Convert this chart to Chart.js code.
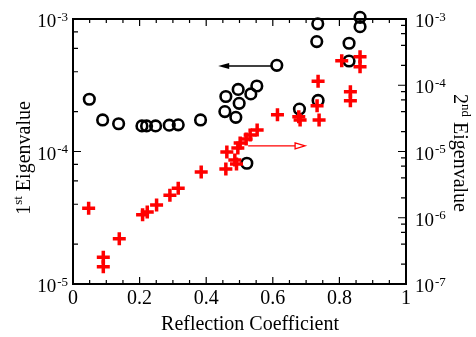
<!DOCTYPE html>
<html>
<head>
<meta charset="utf-8">
<script src="https://cdn.jsdelivr.net/npm/chart.js@4.4.1/dist/chart.umd.min.js"></script>
<style>
  html, body { margin: 0; padding: 0; background: #fff; }
</style>
</head>
<body>
<canvas id="eigChart" width="476" height="337"></canvas>
<script>
// 1st eigenvalue (left axis) - black circles
const firstX = [0.049, 0.089, 0.137, 0.207, 0.221, 0.248, 0.289, 0.316, 0.383,
  0.459, 0.496, 0.552, 0.534, 0.499, 0.456, 0.489, 0.522, 0.612, 0.680,
  0.736, 0.735, 0.732, 0.829, 0.829, 0.862, 0.862];
const firstY = [2.48e-4, 1.73e-4, 1.62e-4, 1.56e-4, 1.56e-4, 1.56e-4, 1.58e-4, 1.59e-4, 1.73e-4,
  2.6e-4, 2.94e-4, 3.12e-4, 2.72e-4, 2.31e-4, 2.0e-4, 1.81e-4, 8.15e-5, 4.47e-4, 2.09e-4,
  2.43e-4, 9.2e-4, 6.75e-4, 6.56e-4, 4.82e-4, 1.03e-3, 8.75e-4];

// 2nd eigenvalue (right axis) - red crosses
const secondX = [0.047, 0.091, 0.091, 0.139, 0.209, 0.223, 0.251, 0.291, 0.316, 0.385,
  0.459, 0.462, 0.486, 0.491, 0.495, 0.502, 0.520, 0.532, 0.553, 0.614,
  0.678, 0.682, 0.736, 0.733, 0.739, 0.807, 0.862, 0.862, 0.833, 0.833];
const secondY = [1.39e-6, 2.53e-7, 1.82e-7, 4.83e-7, 1.11e-6, 1.22e-6, 1.56e-6, 2.18e-6, 2.78e-6, 4.91e-6,
  5.45e-6, 9.8e-6, 7.45e-6, 6.5e-6, 1.13e-5, 1.34e-5, 1.55e-5, 1.77e-5, 2.11e-5, 3.6e-5,
  3.36e-5, 2.99e-5, 1.15e-4, 4.9e-5, 3.0e-5, 2.35e-4, 2.7e-4, 1.9e-4, 8.0e-5, 5.85e-5];

// axis decades (exponents) for the log tick labels
const leftDecades = [-5, -4, -3];
const rightDecades = [-7, -6, -5, -4, -3];

// arrows telling which axis each series belongs to: [fromX, toX, y]
const leftArrow = [0.597, 0.436, 4.42e-4];
const rightArrow = [0.526, 0.697, 1.22e-5];

const SERIF = '"Liberation Serif", "Times New Roman", serif';

function toPoints(xs, ys) {
  return xs.map((x, i) => ({ x: x, y: ys[i] }));
}

// "10" with a raised exponent
function drawPower(ctx, exp, x, y, alignRight) {
  ctx.font = '19px ' + SERIF;
  const baseW = ctx.measureText('10').width;
  ctx.font = '13px ' + SERIF;
  const supW = ctx.measureText(String(exp)).width;
  const left = alignRight ? x - baseW - supW - 1 : x;
  ctx.textAlign = 'left';
  ctx.textBaseline = 'alphabetic';
  ctx.font = '19px ' + SERIF;
  ctx.fillText('10', left, y + 8);
  ctx.font = '13px ' + SERIF;
  ctx.fillText(String(exp), left + baseW + 1, y + 1.5);
}

// "1st Eigenvalue" style title, centred at (0,0) of the current transform
function drawOrdinalTitle(ctx, num, suffix, rest) {
  ctx.textBaseline = 'middle';
  ctx.textAlign = 'left';
  ctx.font = '20px ' + SERIF;
  const wNum = ctx.measureText(num).width;
  const wRest = ctx.measureText(rest).width;
  ctx.font = '13px ' + SERIF;
  const wSuf = ctx.measureText(suffix).width;
  let x = -(wNum + wSuf + wRest) / 2;
  ctx.font = '20px ' + SERIF;
  ctx.fillText(num, x, 0);
  x += wNum;
  ctx.font = '13px ' + SERIF;
  ctx.fillText(suffix, x, -6);
  x += wSuf;
  ctx.font = '20px ' + SERIF;
  ctx.fillText(rest, x, 0);
}

const framePlugin = {
  id: 'frame',
  afterDatasetsDraw(chart) {
    const ctx = chart.ctx;
    const a = chart.chartArea;
    const sx = chart.scales.x, sy = chart.scales.y, sy2 = chart.scales.y2;
    ctx.save();

    // box
    ctx.strokeStyle = '#000';
    ctx.lineWidth = 2;
    ctx.strokeRect(a.left, a.top, a.right - a.left, a.bottom - a.top);

    // inward ticks, x
    ctx.lineWidth = 1.2;
    ctx.beginPath();
    for (let i = 0; i <= 20; i++) {
      const px = sx.getPixelForValue(i * 0.05);
      const len = i % 4 === 0 ? 7 : 4;
      ctx.moveTo(px, a.bottom); ctx.lineTo(px, a.bottom - len);
      ctx.moveTo(px, a.top); ctx.lineTo(px, a.top + len);
    }
    // inward ticks, left log axis
    leftDecades.forEach((e, k) => {
      const py = sy.getPixelForValue(Math.pow(10, e));
      ctx.moveTo(a.left, py); ctx.lineTo(a.left + 8, py);
      if (k < leftDecades.length - 1) {
        [2, 4, 6, 8].forEach(m => {
          const q = sy.getPixelForValue(m * Math.pow(10, e));
          ctx.moveTo(a.left, q); ctx.lineTo(a.left + 5, q);
        });
      }
    });
    // inward ticks, right log axis
    rightDecades.forEach((e, k) => {
      const py = sy2.getPixelForValue(Math.pow(10, e));
      ctx.moveTo(a.right, py); ctx.lineTo(a.right - 8, py);
      if (k < rightDecades.length - 1) {
        [2, 4, 6, 8].forEach(m => {
          const q = sy2.getPixelForValue(m * Math.pow(10, e));
          ctx.moveTo(a.right, q); ctx.lineTo(a.right - 5, q);
        });
      }
    });
    ctx.stroke();

    // log tick labels
    ctx.fillStyle = '#000';
    leftDecades.forEach(e => drawPower(ctx, e, a.left - 5, sy.getPixelForValue(Math.pow(10, e)), true));
    rightDecades.forEach(e => drawPower(ctx, e, a.right + 9, sy2.getPixelForValue(Math.pow(10, e)), false));

    // axis titles
    ctx.font = '20px ' + SERIF;
    ctx.textAlign = 'center';
    ctx.textBaseline = 'alphabetic';
    ctx.fillText('Reflection Coefficient', 250, 330);

    ctx.save();
    ctx.translate(25, 158);
    ctx.rotate(-Math.PI / 2);
    drawOrdinalTitle(ctx, '1', 'st', ' Eigenvalue');
    ctx.restore();

    ctx.save();
    ctx.translate(459, 153);
    ctx.rotate(Math.PI / 2);
    drawOrdinalTitle(ctx, '2', 'nd', ' Eigenvalue');
    ctx.restore();

    // black arrow -> left axis
    let y0 = sy.getPixelForValue(leftArrow[2]);
    let x0 = sx.getPixelForValue(leftArrow[0]);
    let x1 = sx.getPixelForValue(leftArrow[1]);
    ctx.strokeStyle = '#000';
    ctx.fillStyle = '#000';
    ctx.lineWidth = 1.5;
    ctx.beginPath();
    ctx.moveTo(x0, y0); ctx.lineTo(x1 + 6, y0);
    ctx.stroke();
    ctx.beginPath();
    ctx.moveTo(x1, y0); ctx.lineTo(x1 + 11, y0 - 3); ctx.lineTo(x1 + 11, y0 + 3); ctx.closePath();
    ctx.fill();

    // red arrow -> right axis
    y0 = sy2.getPixelForValue(rightArrow[2]);
    x0 = sx.getPixelForValue(rightArrow[0]);
    x1 = sx.getPixelForValue(rightArrow[1]);
    ctx.strokeStyle = '#ff0000';
    ctx.lineWidth = 1.3;
    ctx.beginPath();
    ctx.moveTo(x0, y0); ctx.lineTo(x1 - 10, y0);
    ctx.stroke();
    ctx.beginPath();
    ctx.moveTo(x1, y0); ctx.lineTo(x1 - 10, y0 - 3); ctx.lineTo(x1 - 10, y0 + 3); ctx.closePath();
    ctx.stroke();

    ctx.restore();
  }
};

new Chart(document.getElementById('eigChart'), {
  type: 'scatter',
  data: {
    datasets: [
      {
        label: '2nd Eigenvalue',
        data: toPoints(secondX, secondY),
        yAxisID: 'y2',
        pointStyle: 'cross',
        pointRadius: 6.5,
        pointBorderWidth: 3.5,
        borderColor: '#ff0000',
        backgroundColor: '#ff0000',
        clip: false,
        order: 1
      },
      {
        label: '1st Eigenvalue',
        data: toPoints(firstX, firstY),
        yAxisID: 'y',
        pointStyle: 'circle',
        pointRadius: 5.3,
        pointBorderWidth: 2.6,
        borderColor: '#000',
        backgroundColor: 'rgba(0,0,0,0)',
        clip: false,
        order: 2
      }
    ]
  },
  options: {
    responsive: false,
    animation: false,
    devicePixelRatio: 1,
    layout: { padding: { left: 73, right: 70, top: 19, bottom: 0 } },
    plugins: { legend: { display: false }, tooltip: { enabled: false } },
    scales: {
      x: {
        type: 'linear',
        min: 0,
        max: 1,
        grid: { display: false, drawTicks: false },
        border: { display: false },
        ticks: {
          stepSize: 0.2,
          padding: 3,
          color: '#000',
          font: { family: SERIF, size: 20 },
          callback: v => String(Number(v.toFixed(1)))
        },
        afterFit(scale) { scale.height = 53; }
      },
      y: {
        type: 'logarithmic',
        position: 'left',
        min: 1e-5,
        max: 1e-3,
        display: false
      },
      y2: {
        type: 'logarithmic',
        position: 'right',
        min: 1e-7,
        max: 1e-3,
        display: false
      }
    }
  },
  plugins: [framePlugin]
});
</script>
</body>
</html>
